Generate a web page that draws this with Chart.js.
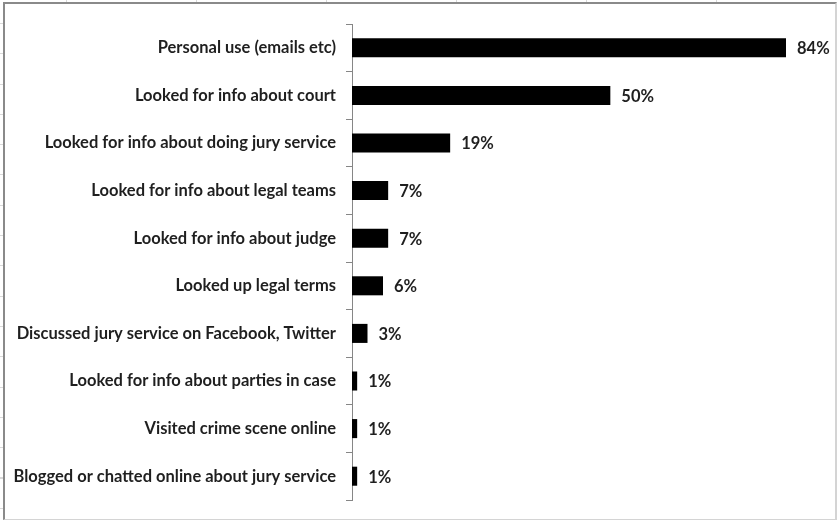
<!DOCTYPE html>
<html>
<head>
<meta charset="utf-8">
<script src="https://cdn.jsdelivr.net/npm/chart.js@4.4.0/dist/chart.umd.min.js"></script>
<style>
    html, body { margin: 0; padding: 0; background: #fff; }
    body {
        width: 837px; height: 521px; position: relative; overflow: hidden;
        background-image:
            repeating-linear-gradient(to right, transparent 0 66px, #d9d9d9 66px 67px, transparent 67px 130px),
            repeating-linear-gradient(to bottom, transparent 0 23px, #d9d9d9 23px 24px, transparent 24px 30.3px);
        background-size: 100% 3px, 3px 100%;
        background-repeat: no-repeat;
    }
    #frame {
        position: absolute; left: 3px; top: 2px; width: 830px; height: 515px;
        background: #fff;
        border-left: 2px solid #8a8a8a; border-top: 2px solid #8a8a8a;
        border-right: 2px solid #d4d4d4; border-bottom: 1px solid #d4d4d4;
    }
    #chart { position: absolute; left: 0; top: 0; }
</style>
</head>
<body>
<div id="frame"></div>
<canvas id="chart" width="837" height="521"></canvas>
<script>
const categories = [
    'Personal use (emails etc)',
    'Looked for info about court',
    'Looked for info about doing jury service',
    'Looked for info about legal teams',
    'Looked for info about judge',
    'Looked up legal terms',
    'Discussed jury service on Facebook, Twitter',
    'Looked for info about parties in case',
    'Visited crime scene online',
    'Blogged or chatted online about jury service'
];
const percentages = [84, 50, 19, 7, 7, 6, 3, 1, 1, 1];

const textColor = '#1f1f1f';
const labelFont = { family: 'Lato, "Open Sans", sans-serif', size: 16.5, weight: 'bold' };

// value labels to the right of each bar
const valueLabels = {
    id: 'valueLabels',
    afterDatasetsDraw(chart) {
        const ctx = chart.ctx;
        const meta = chart.getDatasetMeta(0);
        ctx.save();
        ctx.font = `bold ${labelFont.size}px ${labelFont.family}`;
        ctx.fillStyle = textColor;
        ctx.textAlign = 'left';
        ctx.textBaseline = 'middle';
        meta.data.forEach((bar, i) => {
            ctx.fillText(percentages[i] + '%', bar.x + 11, bar.y + 1);
        });
        ctx.restore();
    }
};

new Chart(document.getElementById('chart'), {
    type: 'bar',
    data: {
        labels: categories,
        datasets: [{
            data: percentages,
            backgroundColor: '#000',
            borderWidth: 0,
            categoryPercentage: 1,
            barPercentage: 0.4
        }]
    },
    options: {
        indexAxis: 'y',
        responsive: false,
        animation: false,
        layout: { padding: { top: 24, bottom: 21, left: 0, right: 20 } },
        plugins: {
            legend: { display: false },
            tooltip: { enabled: false }
        },
        scales: {
            x: { display: false, min: 0, max: 90 },
            y: {
                afterFit: (scale) => { scale.width = 352; },
                border: { display: true, color: '#868686', width: 1 },
                grid: { display: true, drawOnChartArea: false, drawTicks: true, tickLength: 6, color: '#868686', offset: true },
                ticks: { color: textColor, font: labelFont, padding: 10 }
            }
        }
    },
    plugins: [valueLabels]
});
</script>
</body>
</html>
